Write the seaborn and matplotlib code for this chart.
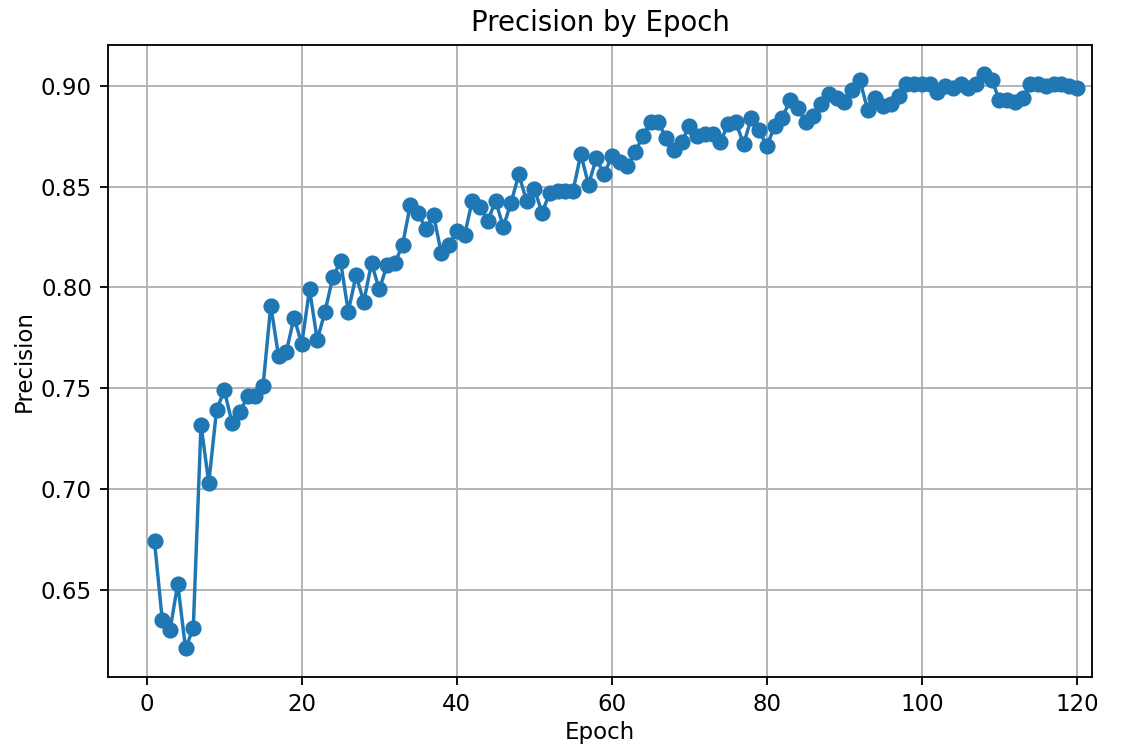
import matplotlib
matplotlib.use("Agg")
import matplotlib.pyplot as plt
import seaborn as sns
import pandas as pd

epochs = list(range(1, 121))
precision = [
    0.674, 0.635, 0.630, 0.653, 0.621, 0.631, 0.732, 0.703, 0.739, 0.749,
    0.733, 0.738, 0.746, 0.746, 0.751, 0.791, 0.766, 0.768, 0.785, 0.772,
    0.799, 0.774, 0.788, 0.805, 0.813, 0.788, 0.806, 0.793, 0.812, 0.799,
    0.811, 0.812, 0.821, 0.841, 0.837, 0.829, 0.836, 0.817, 0.821, 0.828,
    0.826, 0.843, 0.840, 0.833, 0.843, 0.830, 0.842, 0.856, 0.843, 0.849,
    0.837, 0.847, 0.848, 0.848, 0.848, 0.866, 0.851, 0.864, 0.856, 0.865,
    0.862, 0.860, 0.867, 0.875, 0.882, 0.882, 0.874, 0.868, 0.872, 0.880,
    0.875, 0.876, 0.876, 0.872, 0.881, 0.882, 0.871, 0.884, 0.878, 0.870,
    0.880, 0.884, 0.893, 0.889, 0.882, 0.885, 0.891, 0.896, 0.894, 0.892,
    0.898, 0.903, 0.888, 0.894, 0.890, 0.891, 0.895, 0.901, 0.901, 0.901,
    0.901, 0.897, 0.900, 0.899, 0.901, 0.899, 0.901, 0.906, 0.903, 0.893,
    0.893, 0.892, 0.894, 0.901, 0.901, 0.900, 0.901, 0.901, 0.900, 0.899,
]

df = pd.DataFrame({"Epoch": epochs, "Precision": precision})

DPI = 165
fig, ax = plt.subplots(figsize=(1125 / DPI, 749 / DPI), dpi=DPI)
fig.subplots_adjust(left=0.096, right=0.971, bottom=0.096, top=0.94)
sns.lineplot(data=df, x="Epoch", y="Precision", marker="o", color="#1f77b4",
             markeredgecolor="#1f77b4", markersize=6.3, linewidth=1.5, ax=ax)
ax.set_xlim(-5, 122)
ax.set_title("Precision by Epoch")
ax.set_xlabel("Epoch", labelpad=2)
ax.set_ylabel("Precision", labelpad=2)
ax.grid(True)
fig.savefig("out.png", dpi=DPI)
